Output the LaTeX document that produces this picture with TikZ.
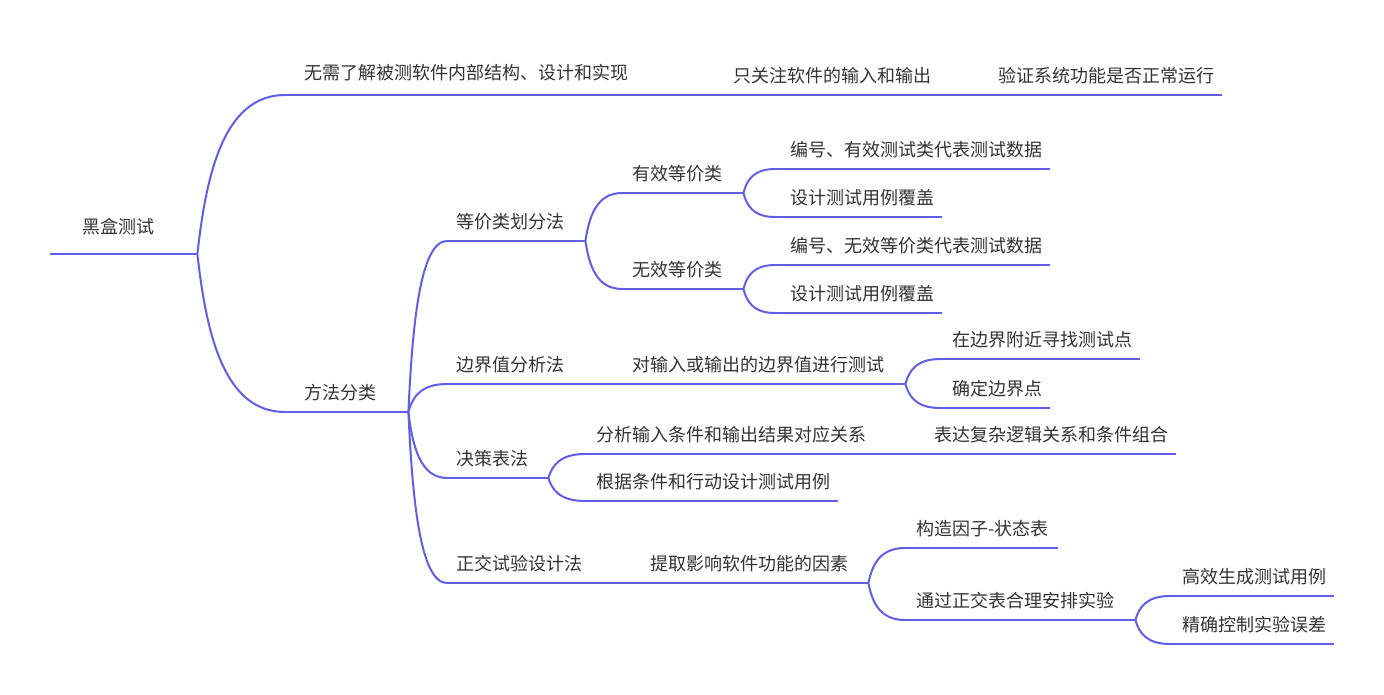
\documentclass[tikz,border=0pt]{standalone}
\usepackage{fontspec}
\newfontfamily\cjk{Noto Sans CJK SC}
\usetikzlibrary{calc}
\definecolor{mline}{RGB}{96,94,232}
\definecolor{mtext}{RGB}{51,51,51}

\begin{document}
\begin{tikzpicture}[
    x=1pt, y=-1pt,
    uline/.style={draw=mline, line width=2pt},
    topic/.style={anchor=south west, inner xsep=0pt, inner ysep=8pt,
        text height=14pt, text depth=4pt, align=left, text=mtext,
        font=\cjk\fontsize{18}{22}\selectfont,
        execute at begin node={\hspace*{#1}},
        append after command={(\tikzlastnode.south west) edge[uline] (\tikzlastnode.south east)}},
    topic/.default=12pt,
    branch/.style={uline, to path={let \p1=(\tikztostart), \p2=(\tikztotarget) in
        .. controls (\x1+0.1*\x2-0.1*\x1, 0.5*\y1+0.5*\y2) and (0.7*\x1+0.3*\x2, \y2) .. (\tikztotarget)}}
]
    \fill[white] (0,0) rectangle (1384,695);
    \useasboundingbox (0,0) rectangle (1384,695);

    % Root and first level
    \node[topic=32pt, text width=147pt, text depth=12pt] (root) at (50,254) {黑盒测试};
    \node[topic=19pt, text width=435pt, text depth=7pt] (feat) at (285,95) {无需了解被测软件内部结构、设计和实现};
    \node[topic=13pt, text width=265pt] (focus) at (720,95) {只关注软件的输入和输出};
    \node[topic=13pt, text width=237pt] (verify) at (985,95) {验证系统功能是否正常运行};
    \node[topic=19pt, text width=123pt] (method) at (285,412) {方法分类};

    % Equivalence partitioning
    \node[topic=9pt, text width=138pt] (equiv) at (447,241) {等价类划分法};
    \node[topic=10pt, text width=121pt] (valid) at (622,193) {有效等价类};
    \node[topic=15pt, text width=275pt] (vdata) at (775,169) {编号、有效测试类代表测试数据};
    \node[topic=15pt, text width=167pt] (vcase) at (775,217) {设计测试用例覆盖};
    \node[topic=10pt, text width=121pt] (invalid) at (622,289) {无效等价类};
    \node[topic=15pt, text width=275pt] (idata) at (775,265) {编号、无效等价类代表测试数据};
    \node[topic=15pt, text width=167pt] (icase) at (775,313) {设计测试用例覆盖};

    % Boundary values
    \node[topic=9pt, text width=173pt] (bound) at (447,384) {边界值分析法};
    \node[topic, text width=285pt] (bio) at (620,384) {对输入或输出的边界值进行测试};
    \node[topic, text width=200pt] (bnear) at (940,359) {在边界附近寻找测试点};
    \node[topic, text width=110pt] (bpoint) at (940,408) {确定边界点};

    % Decision table
    \node[topic=9pt, text width=101pt] (dtable) at (447,478) {决策表法};
    \node[topic=11pt, text width=337pt] (dmap) at (585,454) {分析输入条件和输出结果对应关系};
    \node[topic, text width=254pt] (dlogic) at (922,454) {表达复杂逻辑关系和条件组合};
    \node[topic=11pt, text width=253pt] (dcase) at (585,501) {根据条件和行动设计测试用例};

    % Orthogonal experiment
    \node[topic=9pt, text width=191pt] (ortho) at (447,583) {正交试验设计法};
    \node[topic, text width=230pt] (ofactor) at (638,583) {提取影响软件功能的因素};
    \node[topic=11pt, text width=153pt] (otable) at (905,548) {构造因子-状态表};
    \node[topic=11pt, text width=230pt] (oplan) at (905,620) {通过正交表合理安排实验};
    \node[topic, text width=164pt] (ogen) at (1170,596) {高效生成测试用例};
    \node[topic, text width=164pt] (oerr) at (1170,644) {精确控制实验误差};

    % Connectors
    \draw[branch] (root.south east) to (feat.south west);
    \draw[branch] (feat.south east) to (focus.south west);
    \draw[branch] (focus.south east) to (verify.south west);
    \draw[branch] (root.south east) to (method.south west);
    \draw[branch] (method.south east) to (equiv.south west);
    \draw[branch] (method.south east) to (bound.south west);
    \draw[branch] (method.south east) to (dtable.south west);
    \draw[branch] (method.south east) to (ortho.south west);
    \draw[branch] (equiv.south east) to (valid.south west);
    \draw[branch] (equiv.south east) to (invalid.south west);
    \draw[branch] (valid.south east) to (vdata.south west);
    \draw[branch] (valid.south east) to (vcase.south west);
    \draw[branch] (invalid.south east) to (idata.south west);
    \draw[branch] (invalid.south east) to (icase.south west);
    \draw[branch] (bound.south east) to (bio.south west);
    \draw[branch] (bio.south east) to (bnear.south west);
    \draw[branch] (bio.south east) to (bpoint.south west);
    \draw[branch] (dtable.south east) to (dmap.south west);
    \draw[branch] (dtable.south east) to (dcase.south west);
    \draw[branch] (dmap.south east) to (dlogic.south west);
    \draw[branch] (ortho.south east) to (ofactor.south west);
    \draw[branch] (ofactor.south east) to (otable.south west);
    \draw[branch] (ofactor.south east) to (oplan.south west);
    \draw[branch] (oplan.south east) to (ogen.south west);
    \draw[branch] (oplan.south east) to (oerr.south west);
\end{tikzpicture}
\end{document}
